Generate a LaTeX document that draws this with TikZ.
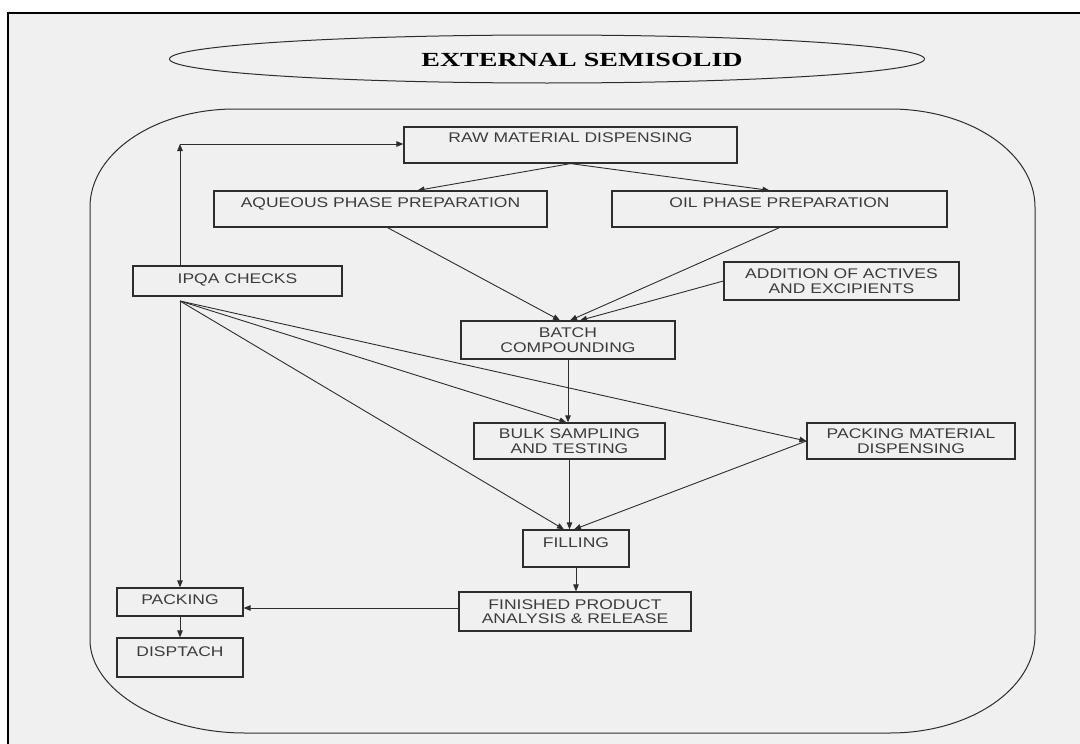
\documentclass[tikz,border=0pt]{standalone}
\usepackage{fontspec}
\newfontfamily\boxfont[FakeStretch=1.25]{Liberation Sans}
\newfontfamily\titlefont[FakeStretch=1.4]{Liberation Serif}
\usetikzlibrary{arrows.meta,shapes.geometric,calc}
\definecolor{bgc}{RGB}{240,240,241}
\definecolor{lnc}{RGB}{45,45,45}
\definecolor{txtc}{RGB}{60,60,60}
\tikzset{
  box/.style={draw=lnc, line width=1.2pt, inner sep=0pt, text=txtc,
    font=\boxfont\fontsize{14}{14.5}\selectfont},
  box2/.style={box, align=center},
  arr/.style={draw=lnc, line width=0.9pt, -{Triangle[length=7pt,width=5.5pt]}},
  outline/.style={draw=lnc, line width=1pt}
}
\begin{document}
\begin{tikzpicture}[x=1pt,y=-1pt]
\useasboundingbox (0,0) rectangle (1080,744);
\fill[white] (0,0) rectangle (1080,744);
\draw[line width=2pt, fill=bgc] (8,13) rectangle (1086,750);

% title ellipse
\node[outline, ellipse, minimum width=755pt, minimum height=48pt, inner sep=0pt] (titleshape) at (547,59) {};
\node[font=\titlefont\bfseries\fontsize{20}{22}\selectfont, text=black] (title) at (582,60) {EXTERNAL SEMISOLID};

% container
\draw[outline] (90,207) .. controls (90,153) and (155,109) .. (235,109)
  -- (890,109) .. controls (970,109) and (1035,153) .. (1035,207)
  -- (1035,635) .. controls (1035,689) and (970,733) .. (890,733)
  -- (245,733) .. controls (160,733) and (90,689) .. (90,640) -- cycle;

% boxes
\node[box, minimum width=333pt, text height=15pt, text depth=21pt] (raw) at (570.5,145) {RAW MATERIAL DISPENSING};
\node[box, minimum width=333pt, text height=16pt, text depth=20pt] (aq) at (380.5,209) {AQUEOUS PHASE PREPARATION};
\node[box, minimum width=335pt, text height=16pt, text depth=20pt] (oil) at (779.5,209) {OIL PHASE PREPARATION};
\node[box, minimum width=209pt, text height=17pt, text depth=13pt] (ipqa) at (237.5,281) {IPQA CHECKS};
\node[box2, minimum width=235pt, minimum height=38pt] (add) at (841.5,281) {ADDITION OF ACTIVES\\AND EXCIPIENTS};
\node[box2, minimum width=214pt, minimum height=38pt] (batch) at (568,340) {BATCH\\COMPOUNDING};
\node[box2, minimum width=191pt, minimum height=36pt] (bulk) at (569.5,441) {BULK SAMPLING\\AND TESTING};
\node[box2, minimum width=208pt, minimum height=36pt] (pm) at (911,441) {PACKING MATERIAL\\DISPENSING};
\node[box, minimum width=106pt, text height=17pt, text depth=20pt] (fill) at (576,548.5) {FILLING};
\node[box2, minimum width=232pt, minimum height=39pt] (fin) at (575,611.5) {FINISHED PRODUCT\\ANALYSIS \& RELEASE};
\node[box, minimum width=126pt, text height=16pt, text depth=12pt] (pack) at (180,602) {PACKING};
\node[box, minimum width=126pt, text height=18pt, text depth=21pt] (disp) at (180,657.5) {DISPTACH};

% connectors
\coordinate (corner) at (180,144);
\coordinate (org) at (180,301);
\draw[arr] (ipqa.north -| corner) -- (corner);
\draw[arr] (corner) -- (corner -| raw.west);
\draw[arr] (raw.south) -- ([xshift=37pt]aq.north);
\draw[arr] (raw.south) -- ([xshift=-10pt]oil.north);
\draw[arr] ([xshift=7pt]aq.south) -- ([xshift=-8pt]batch.north);
\draw[arr] (oil.south) -- ([xshift=2pt]batch.north);
\draw[arr] (add.west) -- ([xshift=12pt]batch.north);
\draw[arr] (batch.south) -- (batch.south |- bulk.north);
\draw[arr] (org) -- (pack.north);
\draw[arr] (org) -- ([xshift=-3pt]bulk.north);
\draw[arr] (org) -- (pm.west);
\draw[arr] (org) -- ([xshift=-12pt]fill.north);
\draw[arr] (bulk.south) -- (bulk.south |- fill.north);
\draw[arr] (pm.west) -- ([xshift=-2pt]fill.north);
\draw[arr] (fill.south) -- (fill.south |- fin.north);
\draw[arr] ([yshift=3.5pt]fin.west) -- ([yshift=3.5pt]fin.west -| pack.east);
\draw[arr] (pack.south) -- (disp.north);
\end{tikzpicture}
\end{document}
